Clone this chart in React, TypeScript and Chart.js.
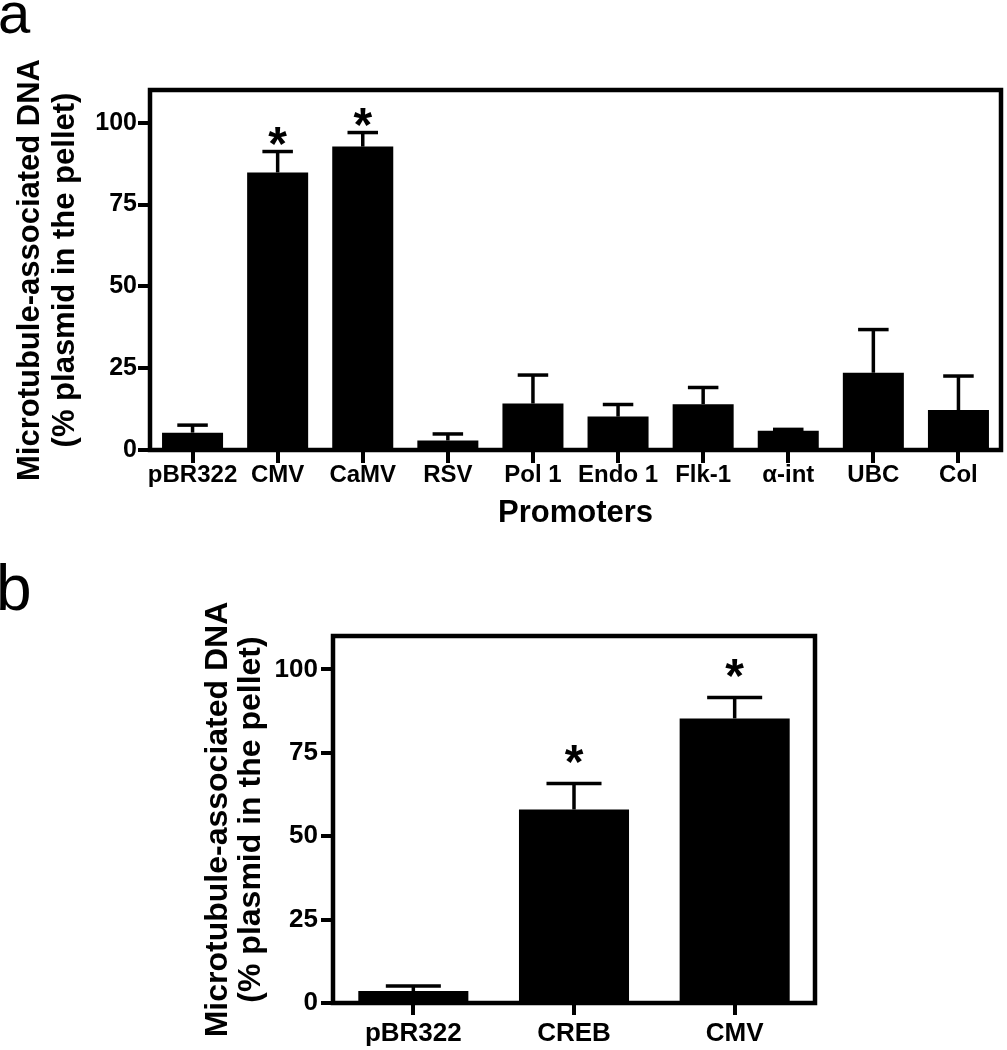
import React, { useEffect, useRef } from 'react';
import { Chart, registerables } from 'chart.js';

Chart.register(...registerables);

const FONT = "'Liberation Sans', Arial, Helvetica, sans-serif";

// ---- Panel a data ----
const promotersA = ['pBR322', 'CMV', 'CaMV', 'RSV', 'Pol 1', 'Endo 1', 'Flk-1', 'α-int', 'UBC', 'Col'];
const meansA = [5.3, 84.8, 92.7, 2.9, 14.2, 10.2, 14.0, 5.9, 23.6, 12.2];
const semA = [2.3, 6.4, 4.3, 2.0, 8.7, 3.7, 5.1, 0.4, 13.2, 10.4];
const sigA = [false, true, true, false, false, false, false, false, false, false];

// ---- Panel b data ----
const promotersB = ['pBR322', 'CREB', 'CMV'];
const meansB = [3.6, 58.0, 85.3];
const semB = [1.5, 7.8, 6.3];
const sigB = [false, true, true];

const yTicksMax = 110;
const yStep = 25;
const yTitleLines = ['Microtubule-associated DNA', '(% plasmid in the pellet)'];
const xTitleA = 'Promoters';

const decorPlugin = {
  id: 'decor',
  afterDatasetsDraw(chart: any, _args: any, o: any) {
    const ctx = chart.ctx;
    const meta = chart.getDatasetMeta(0);
    const ys = chart.scales.y;
    const values = chart.data.datasets[0].data;
    ctx.save();
    ctx.strokeStyle = '#000';
    ctx.fillStyle = '#000';
    ctx.lineCap = 'butt';
    meta.data.forEach((bar: any, i: number) => {
      const v = values[i];
      const e = o.errors[i];
      const topPx = ys.getPixelForValue(v + e);
      const capHalf = (bar.width * o.capRatio) / 2;
      ctx.lineWidth = o.stemWidth;
      ctx.beginPath();
      ctx.moveTo(bar.x, bar.y);
      ctx.lineTo(bar.x, topPx);
      ctx.stroke();
      ctx.lineWidth = o.capWidth;
      ctx.beginPath();
      ctx.moveTo(bar.x - capHalf, topPx);
      ctx.lineTo(bar.x + capHalf, topPx);
      ctx.stroke();
      if (o.sig[i]) {
        ctx.font = `bold ${o.starSize}px ${FONT}`;
        ctx.textAlign = 'center';
        ctx.textBaseline = 'alphabetic';
        ctx.fillText('*', bar.x, topPx - o.starGap + 0.58 * o.starSize);
      }
    });
    const { left, right, top, bottom } = chart.chartArea;
    ctx.lineWidth = o.frameWidth;
    ctx.strokeRect(left, top, right - left, bottom - top);
    ctx.font = `${o.letterSize}px ${FONT}`;
    ctx.textAlign = 'left';
    ctx.textBaseline = 'alphabetic';
    ctx.fillText(o.letter, o.letterX, o.letterY);
    ctx.restore();
  },
};

function buildConfig(p: any) {
  return {
    type: 'bar',
    data: {
      labels: p.labels,
      datasets: [
        {
          data: p.values,
          backgroundColor: '#000',
          borderWidth: 0,
          barPercentage: p.barPct,
          categoryPercentage: 1,
        },
      ],
    },
    options: {
      responsive: false,
      animation: false,
      events: [],
      layout: { padding: p.padding },
      plugins: {
        legend: { display: false },
        tooltip: { enabled: false },
        decor: {
          errors: p.errors,
          sig: p.sig,
          capRatio: 0.5,
          stemWidth: 3.5,
          capWidth: 3.5,
          starSize: p.starSize,
          starGap: p.starGap,
          frameWidth: 4.5,
          letter: p.letter,
          letterSize: p.letterSize,
          letterX: p.letterX,
          letterY: p.letterY,
        },
      },
      scales: {
        x: {
          type: 'category',
          offset: true,
          grid: {
            offset: false,
            drawOnChartArea: false,
            drawTicks: true,
            tickLength: p.xTickLen,
            tickWidth: 4,
            tickColor: '#000',
            color: '#000',
            lineWidth: 4,
          },
          border: { display: false },
          ticks: {
            color: '#000',
            font: { family: FONT, size: p.xFont, weight: 'bold', lineHeight: 1 },
            padding: p.xPad,
            maxRotation: 0,
            minRotation: 0,
            autoSkip: false,
          },
          title: {
            display: !!p.xTitle,
            text: p.xTitle || '',
            color: '#000',
            font: { family: FONT, size: 31, weight: 'bold', lineHeight: 1.2 },
            padding: { top: 0, bottom: 28 },
          },
          afterFit: (s: any) => {
            s.height = p.xHeight;
          },
        },
        y: {
          min: 0,
          max: yTicksMax,
          grid: {
            drawOnChartArea: false,
            drawTicks: true,
            tickLength: 12,
            tickWidth: 4,
            tickColor: '#000',
            color: '#000',
            lineWidth: 4,
          },
          border: { display: false },
          ticks: {
            stepSize: yStep,
            includeBounds: false,
            color: '#000',
            font: { family: FONT, size: p.yFont, weight: 'bold' },
            padding: p.yPad,
          },
          title: {
            display: true,
            text: yTitleLines,
            color: '#000',
            font: { family: FONT, size: p.yTitleSize, weight: 'bold', lineHeight: p.yTitleLH },
            padding: { top: p.yTitlePad, bottom: 0 },
          },
          afterFit: (s: any) => {
            s.width = p.yWidth;
          },
        },
      },
    },
    plugins: [decorPlugin],
  };
}

function Panel(props: { cfg: any; width: number; height: number; top: number }) {
  const ref = useRef<HTMLCanvasElement | null>(null);
  useEffect(() => {
    if (!ref.current) return;
    const chart = new Chart(ref.current, props.cfg);
    return () => chart.destroy();
  }, []);
  return (
    <canvas
      ref={ref}
      width={props.width}
      height={props.height}
      style={{ position: 'absolute', left: 0, top: props.top, width: props.width, height: props.height, display: 'block' }}
    />
  );
}

const cfgA = buildConfig({
  labels: promotersA,
  values: meansA,
  errors: semA,
  sig: sigA,
  barPct: 0.717,
  padding: { left: 0, top: 90, right: 6, bottom: 0 },
  xTickLen: 13,
  xFont: 24,
  xPad: 0,
  xTitle: xTitleA,
  xHeight: 110,
  yFont: 25,
  yPad: 1,
  yTitleSize: 31,
  yTitleLH: 1.13,
  yTitlePad: 12.5,
  yWidth: 150,
  starSize: 48,
  starGap: 19,
  letter: 'a',
  letterSize: 58,
  letterX: -2,
  letterY: 33,
});

const cfgB = buildConfig({
  labels: promotersB,
  values: meansB,
  errors: semB,
  sig: sigB,
  barPct: 0.685,
  padding: { left: 180, top: 76, right: 192, bottom: 0 },
  xTickLen: 12,
  xFont: 26,
  xPad: 6,
  xTitle: '',
  xHeight: 47,
  yFont: 26,
  yPad: 3,
  yTitleSize: 32,
  yTitleLH: 1.05,
  yTitlePad: 21,
  yWidth: 153,
  starSize: 48,
  starGap: 33,
  letter: 'b',
  letterSize: 64,
  letterX: -4,
  letterY: 50,
});

export default function App() {
  return (
    <div style={{ position: 'absolute', left: 0, top: 0, width: 1007, height: 1050, background: '#fff' }}>
      <Panel cfg={cfgA} width={1007} height={560} top={0} />
      <Panel cfg={cfgB} width={1007} height={490} top={560} />
    </div>
  );
}
